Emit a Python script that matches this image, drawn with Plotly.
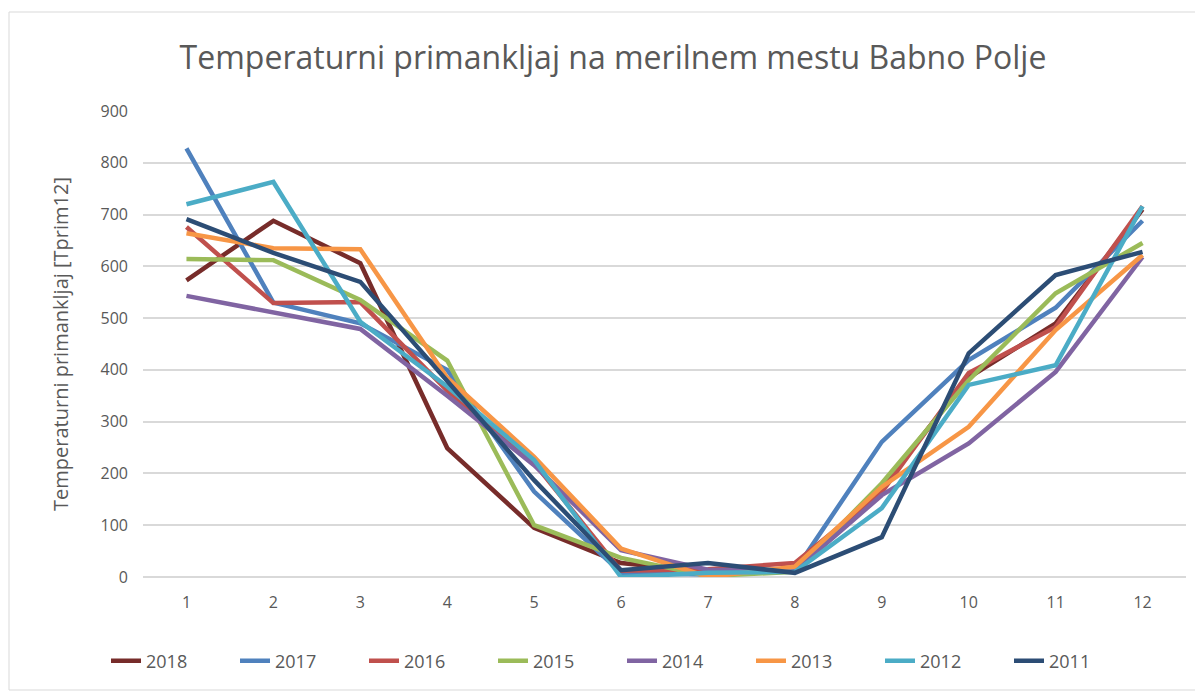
import plotly.graph_objects as go

months = [str(m) for m in range(1, 13)]
years = ["2018", "2017", "2016", "2015", "2014", "2013", "2012", "2011"]

v2018 = [573, 688, 606, 249, 95, 27, 10, 12, 175, 385, 490, 710]
v2017 = [828, 530, 490, 400, 165, 8, 5, 12, 261, 419, 520, 688]
v2016 = [676, 529, 531, 360, 220, 12, 15, 27, 164, 394, 483, 716]
v2015 = [614, 612, 535, 418, 100, 37, 2, 10, 181, 380, 548, 645]
v2014 = [543, 510, 479, 350, 216, 52, 14, 12, 158, 258, 396, 618]
v2013 = [664, 635, 633, 385, 232, 55, 0, 20, 174, 290, 477, 622]
v2012 = [720, 763, 493, 368, 226, 0, 8, 10, 133, 371, 409, 716]
v2011 = [691, 626, 570, 380, 187, 13, 27, 8, 77, 432, 583, 628]

series = [v2018, v2017, v2016, v2015, v2014, v2013, v2012, v2011]
colors = ["#772C2A", "#4F81BD", "#C0504D", "#9BBB59", "#8064A2", "#F79646", "#4BACC6", "#2C4D75"]

fig = go.Figure()
for name, vals, col in zip(years, series, colors):
    fig.add_trace(go.Scatter(x=months, y=vals, name=name, mode="lines",
                             line=dict(color=col, width=4.5)))

font_fam = "Open Sans, Noto Sans, sans-serif"
W, H = 1195, 685
L, R, T, B = 135, 17, 103, 116
pw, ph = W - L - R, H - T - B

fig.update_layout(
    width=W, height=H,
    paper_bgcolor="white", plot_bgcolor="white",
    margin=dict(l=L, r=R, t=T, b=B, autoexpand=False),
    title=dict(text="Temperaturni primankljaj na merilnem mestu Babno Polje",
               x=(613 - 8) / W, xanchor="center", y=1 - (58 - 8) / H, yanchor="middle",
               font=dict(family=font_fam, size=32, color="#595959")),
    font=dict(family=font_fam, color="#595959", size=16),
    xaxis=dict(type="category", range=[-0.5, 11.5], showgrid=False,
               showline=False, ticks="", ticklabelstandoff=14,
               tickfont=dict(size=16, color="#595959")),
    yaxis=dict(range=[0, 900], dtick=100, showgrid=True, gridcolor="#D9D9D9",
               gridwidth=1.5, zeroline=True, zerolinecolor="#D9D9D9", zerolinewidth=1.5,
               ticks="", ticklabelstandoff=14, tickfont=dict(size=16, color="#595959"),
               title=dict(text="Temperaturni primankljaj [Tprim12]",
                          font=dict(size=20, color="#595959"), standoff=26)),
    legend=dict(orientation="h", xref="container", yref="container",
                x=(622 - 8) / W, xanchor="center",
                y=1 - (661 - 8) / H, yanchor="middle",
                font=dict(size=18, color="#595959"), entrywidth=84,
                traceorder="normal"),
    showlegend=True,
)
fig.add_shape(type="rect", xref="paper", yref="paper",
              x0=(9 - 143) / pw, x1=(1198 - 143) / pw,
              y0=(577 - 690) / ph, y1=(577 - 12) / ph,
              line=dict(color="#D9D9D9", width=1), fillcolor="rgba(0,0,0,0)", layer="below")

fig.write_html("out.html")
